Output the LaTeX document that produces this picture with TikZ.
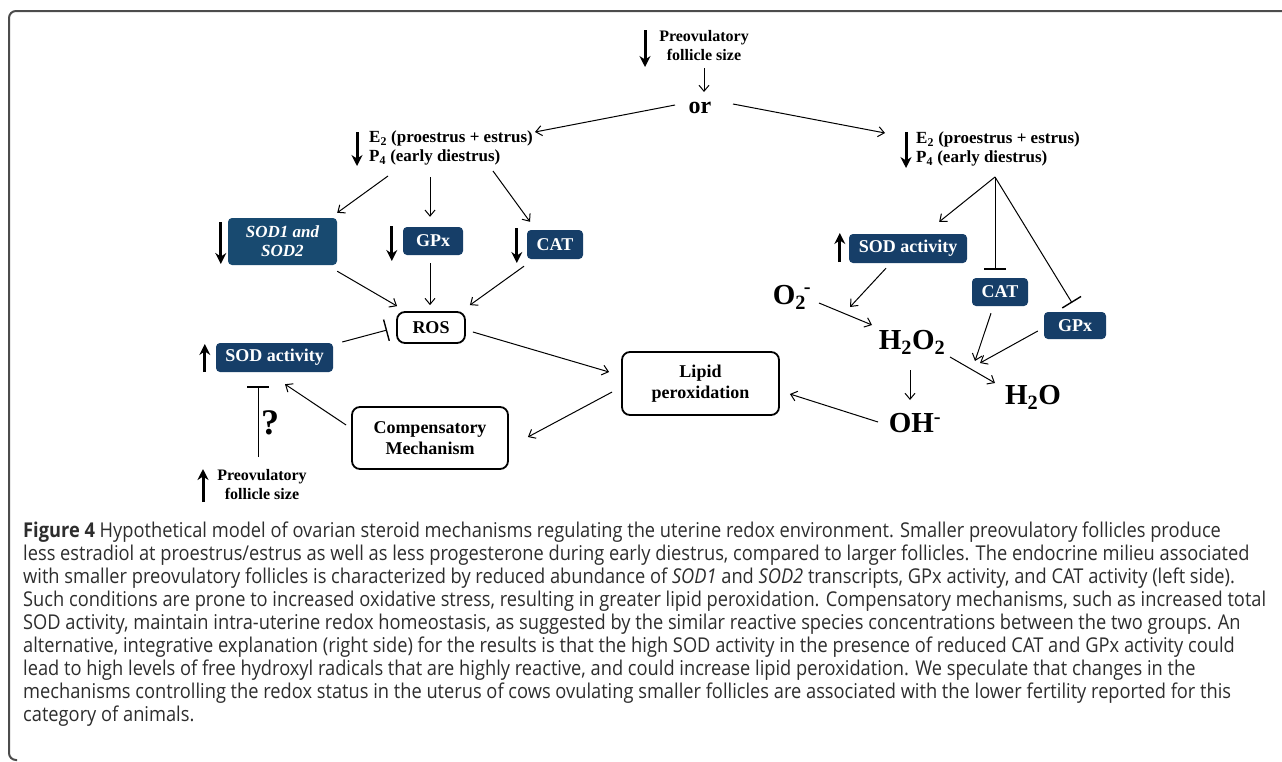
\documentclass[tikz,border=0pt]{standalone}
\usepackage{fontspec}
\setmainfont{Liberation Serif}
\newfontfamily\capfont[FakeStretch=0.895]{Open Sans}
\usetikzlibrary{arrows.meta,calc}
\definecolor{boxblue}{RGB}{22,62,104}
\definecolor{boxblueB}{RGB}{24,74,112}
\definecolor{capgray}{RGB}{45,45,45}
\tikzset{
 thinarrow/.style={draw, line width=1pt, -{Straight Barb[length=6pt,width=10pt]}},
 inhib/.style={draw, line width=1pt, -{Bar[width=22pt,line width=1.4pt]}},
 bigarrow/.style={draw, line width=3pt, -{Stealth[length=11pt,width=11pt]}},
 bluebox/.style={fill=boxblue, rounded corners=4pt, text=white, inner sep=0pt, font=\bfseries\fontsize{18}{20}\selectfont, align=center},
 whitebox/.style={draw, line width=1.8pt, rounded corners=8pt, fill=white, inner sep=0pt, font=\bfseries\fontsize{18}{21}\selectfont, align=center},
 lbl/.style={inner sep=0pt, font=\bfseries\fontsize{16}{19}\selectfont, align=center},
 e2lbl/.style={inner sep=0pt, font=\bfseries\fontsize{17}{19}\selectfont, align=left, anchor=west},
 chem/.style={inner sep=0pt, font=\bfseries\fontsize{29}{32}\selectfont},
 capline/.style={anchor=base west, inner sep=0pt, font=\capfont\fontsize{20.4}{23}\selectfont, text=capgray},
}
\begin{document}
\begin{tikzpicture}[x=1pt,y={(0pt,-1pt)}]
\useasboundingbox (0,0) rectangle (1282,761);
\clip (0,0) rectangle (1282,761);
% frame
\draw[line width=2pt, black!70, rounded corners=7pt] (17,760) -- (9,760) -- (9,11) -- (1295,11);

% top
\node[lbl] (pre1) at (704,46) {Preovulatory\\follicle size};
\node[inner sep=0pt, font=\bfseries\fontsize{24}{26}\selectfont] (or) at (700,108) {or};
\node[e2lbl] (e2l) at (369,148) {E\textsubscript{2} (proestrus + estrus)\\P\textsubscript{4} (early diestrus)};
\node[e2lbl] (e2r) at (916,149) {E\textsubscript{2} (proestrus + estrus)\\P\textsubscript{4} (early diestrus)};

% left boxes
\node[bluebox, fill=boxblueB, minimum width=109pt, minimum height=47pt, font=\bfseries\itshape\fontsize{17}{19}\selectfont] (sod12) at (282.5,241.5) {SOD1 and\\SOD2};
\node[bluebox, minimum width=60pt, minimum height=28pt] (gpx) at (433,241) {GPx};
\node[bluebox, minimum width=56pt, minimum height=29pt] (cat) at (555,244.5) {CAT};
\node[whitebox, minimum width=68pt, minimum height=31pt] (ros) at (431,327.5) {ROS};
\node[bluebox, minimum width=117pt, minimum height=29pt] (sodl) at (274.5,357.5) {SOD activity};
\node[whitebox, minimum width=156pt, minimum height=62pt] (comp) at (430,438) {Compensatory\\Mechanism};
\node[whitebox, minimum width=157pt, minimum height=63pt] (lipid) at (700.5,383.5) {Lipid\\peroxidation};
\node[lbl] (pre2) at (262,485) {Preovulatory\\follicle size};
\node[inner sep=0pt, font=\bfseries\fontsize{36}{38}\selectfont] (q) at (270,423) {?};

% right
\node[bluebox, minimum width=118pt, minimum height=29pt] (sodr) at (908,248.5) {SOD activity};
\node[bluebox, minimum width=56pt, minimum height=28pt] (catr) at (1000,292) {CAT};
\node[bluebox, minimum width=62pt, minimum height=27pt] (gpxr) at (1075,325.5) {GPx};
\node[chem] (o2) at (792,297) {O\textsubscript{2}\hspace{-2pt}\raisebox{2pt}{\textsuperscript{-}}};
\node[chem] (h2o2) at (912,342) {H\textsubscript{2}O\textsubscript{2}};
\node[chem] (oh) at (915,423) {OH\textsuperscript{-}};
\node[chem] (h2o) at (1033,397) {H\textsubscript{2}O};
\coordinate (e2rapex) at ($(e2r.west)+(79,28)$);
\coordinate (merge) at (978,362);

% big arrows
\draw[bigarrow] ($(pre1.center)+(-59,-16)$) -- ++(0,37);
\draw[bigarrow] ($(e2l.west)+(-12,-16)$) -- ++(0,34);
\draw[bigarrow] ($(e2r.west)+(-10,-17)$) -- ++(0,36);
\draw[bigarrow] ($(sod12.west)+(-7,-19.5)$) -- ++(0,42);
\draw[bigarrow] ($(gpx.west)+(-11,-15)$) -- ++(0,35);
\draw[bigarrow] ($(cat.west)+(-10,-16.5)$) -- ++(0,35);
\draw[bigarrow] ($(sodl.west)+(-11,14.5)$) -- ++(0,-28);
\draw[bigarrow] ($(sodr.west)+(-9,13.5)$) -- ++(0,-29);
\draw[bigarrow] ($(pre2.center)+(-59,17)$) -- ++(0,-33);

% thin connectors
\draw[thinarrow] ([shift={(0,22)}]pre1.center) -- ([shift={(4,-16)}]or.center);
\draw[thinarrow] ([shift={(-25,-3)}]or.center) -- ([shift={(166,-16)}]e2l.west);
\draw[thinarrow] ([shift={(33,-4)}]or.center) -- ([shift={(-31,-16)}]e2r.west);
\draw[thinarrow] ([shift={(19,28)}]e2l.west) -- ([shift={(0,-5)}]sod12.north east);
\draw[thinarrow] ([shift={(61,29)}]e2l.west) -- ([shift={(-3,-10)}]gpx.north);
\draw[thinarrow] ([shift={(124,23)}]e2l.west) -- ([shift={(-25,-8)}]cat.north);
\draw[thinarrow] ([shift={(0,6)}]sod12.south east) -- ([shift={(1,-5)}]ros.north west);
\draw[thinarrow] ([shift={(-3,8)}]gpx.south) -- ([shift={(-1,-6)}]ros.north);
\draw[thinarrow] ([shift={(-31,7)}]cat.south) -- ([shift={(4,-6)}]ros.north east);
\draw[inhib] ([shift={(9,-15.5)}]sodl.east) -- ([shift={(-9,2.5)}]ros.west);
\draw[thinarrow] ([shift={(7,4.5)}]ros.east) -- ([shift={(-12,-11.5)}]lipid.west);
\draw[thinarrow] ([shift={(-9,8.5)}]lipid.west) -- ([shift={(19,-1)}]comp.east);
\draw[thinarrow] ([shift={(-5,-13)}]comp.west) -- ([shift={(10.5,12)}]sodl.south);
\draw[inhib] ([shift={(-4,-28)}]pre2.center) -- ([shift={(-16.5,14)}]sodl.south);
\draw[thinarrow] (e2rapex) -- ([shift={(-28,-12)}]sodr.north east);
\draw[inhib] (e2rapex) -- ([shift={(-5,-8)}]catr.north);
\draw[inhib] (e2rapex) -- ([shift={(-3,-9)}]gpxr.north);
\draw[thinarrow] ([shift={(-22,5)}]sodr.south) -- ([shift={(-62,-35)}]h2o2.center);
\draw[thinarrow] ([shift={(27,6)}]o2.center) -- ([shift={(-40,-17)}]h2o2.center);
\draw[thinarrow] ([shift={(-2,28)}]h2o2.center) -- ([shift={(-5,-23)}]oh.center);
\draw[thinarrow] ([shift={(38,15)}]h2o2.center) -- ([shift={(-38,-14)}]h2o.center);
\draw[thinarrow] ([shift={(-9,7)}]catr.south) -- ([shift={(-3,-1)}]merge);
\draw[thinarrow] ([shift={(-6,5.5)}]gpxr.west) -- ([shift={(2,1)}]merge);
\draw[thinarrow] ([shift={(-37,-1)}]oh.center) -- ([shift={(10,10.5)}]lipid.east);

% caption
\node[capline] (c1) at (23,537) {{\bfseries Figure 4} Hypothetical model of ovarian steroid mechanisms regulating the uterine redox environment. Smaller preovulatory follicles produce};
\node[capline] (c2) at (23,560.1) {less estradiol at proestrus/estrus as well as less progesterone during early diestrus, compared to larger follicles. The endocrine milieu associated};
\node[capline] (c3) at (23,583.2) {with smaller preovulatory follicles is characterized by reduced abundance of \textit{SOD1} and \textit{SOD2} transcripts, GPx activity, and CAT activity (left side).};
\node[capline] (c4) at (23,606.3) {Such conditions are prone to increased oxidative stress, resulting in greater lipid peroxidation. Compensatory mechanisms, such as increased total};
\node[capline] (c5) at (23,629.4) {SOD activity, maintain intra-uterine redox homeostasis, as suggested by the similar reactive species concentrations between the two groups. An};
\node[capline] (c6) at (23,652.5) {alternative, integrative explanation (right side) for the results is that the high SOD activity in the presence of reduced CAT and GPx activity could};
\node[capline] (c7) at (23,675.6) {lead to high levels of free hydroxyl radicals that are highly reactive, and could increase lipid peroxidation. We speculate that changes in the};
\node[capline] (c8) at (23,698.7) {mechanisms controlling the redox status in the uterus of cows ovulating smaller follicles are associated with the lower fertility reported for this};
\node[capline] (c9) at (23,721.8) {category of animals.};
\end{tikzpicture}
\end{document}
